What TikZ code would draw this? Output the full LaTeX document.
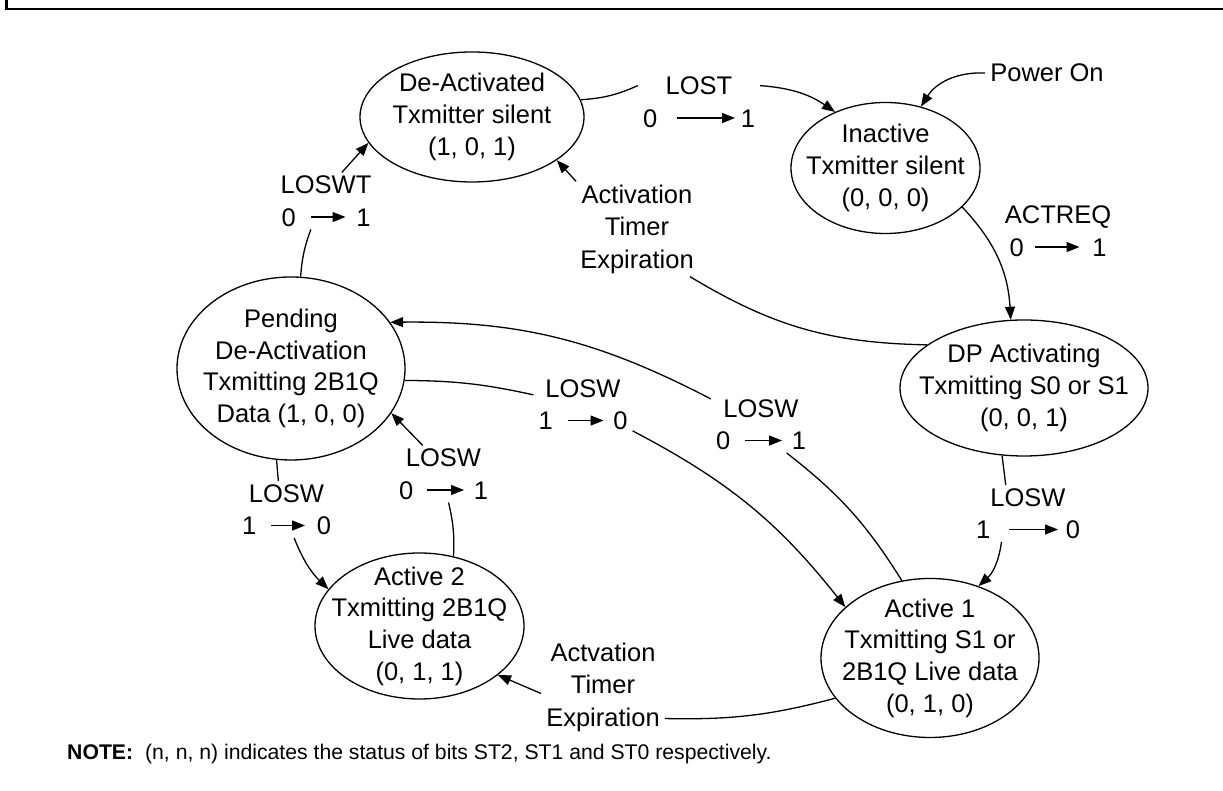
\documentclass[tikz,border=0pt]{standalone}
\usepackage{fontspec}
\setmainfont{Liberation Sans}
\usetikzlibrary{shapes.geometric,arrows.meta}

\newcommand{\flipbits}[5]{#1\hspace{#3pt}\tikz[baseline]\draw[line width=1.5pt,-{Triangle[length=13pt,width=10pt]}] (0pt,9pt) -- (#4pt,9pt);\hspace{#5pt}#2}

\begin{document}
\begin{tikzpicture}[x=1pt,y=1pt,
    stateell/.style={ellipse,draw,line width=1.3pt,inner sep=0pt},
    statetxt/.style={align=center,font=\fontsize{25.5}{31.7}\selectfont},
    cond/.style={align=center,inner xsep=5pt,inner ysep=3pt,font=\fontsize{25.5}{32.5}\selectfont},
    link/.style={line width=1.3pt},
    trans/.style={link,-{Triangle[length=13pt,width=10pt]}}]
  \useasboundingbox (0,0) rectangle (1223,791);
  \draw[line width=2.3pt] (6.5,791) -- (6.5,782) -- (1223,782);

  \node[stateell,minimum width=224pt,minimum height=130pt,label={[statetxt]center:{De-Activated\\Txmitter silent\\(1, 0, 1)}}] (deact) at (472,674) {};
  \node[stateell,minimum width=189pt,minimum height=131pt,label={[statetxt]center:{Inactive\\Txmitter silent\\(0, 0, 0)}}] (inact) at (885.5,623) {};
  \node[stateell,minimum width=248pt,minimum height=136pt,label={[statetxt]center:{DP Activating\\Txmitting S0 or S1\\(0, 0, 1)}}] (dpact) at (1024,403) {};
  \node[stateell,minimum width=228pt,minimum height=183pt,label={[statetxt]center:{Pending\\De-Activation\\Txmitting 2B1Q\\Data (1, 0, 0)}}] (pend) at (291,422.5) {};
  \node[stateell,minimum width=209pt,minimum height=146pt,label={[statetxt]center:{Active 2\\Txmitting 2B1Q\\Live data\\(0, 1, 1)}}] (act2) at (419.5,165) {};
  \node[stateell,minimum width=218pt,minimum height=159pt,label={[statetxt]center:{Active 1\\Txmitting S1 or\\2B1Q Live data\\(0, 1, 0)}}] (act1) at (930,133) {};

  \node[cond] (lost) at (699,689) {LOST\\\flipbits{0}{1}{19}{58}{5}};
  \node[cond] (power) at (1047,718) {Power On};
  \node[cond] (actreq) at (1058,560) {ACTREQ\\\flipbits{0}{1}{10}{45}{12}};
  \node[cond] (tmrup) at (637,562) {Activation\\Timer\\Expiration};
  \node[cond] (loswt) at (326,590) {LOSWT\\\flipbits{0}{1}{14}{35}{10}};
  \node[cond] (loswpa) at (583,386.5) {LOSW\\\flipbits{1}{0}{14}{36}{9}};
  \node[cond] (loswap) at (761,366.5) {LOSW\\\flipbits{0}{1}{14}{37}{9}};
  \node[cond] (loswda) at (1028,277.5) {LOSW\\\flipbits{1}{0}{18}{49}{7}};
  \node[cond] (loswpb) at (286.5,281.5) {LOSW\\\flipbits{1}{0}{14}{34}{11}};
  \node[cond] (loswbp) at (443.5,317) {LOSW\\\flipbits{0}{1}{13}{37}{9}};
  \node[cond] (tmrlo) at (603,104) {Actvation\\Timer\\Expiration};
  \node[anchor=base west,inner sep=0pt,font=\fontsize{21.2}{25}\selectfont] (note) at (67,31) {\textbf{NOTE:}\hspace{12pt}(n, n, n) indicates the status of bits ST2, ST1 and ST0 respectively.};

  \draw[link] (deact.9) to[bend right=10] (lost.165);
  \draw[trans] (lost.15) to[bend left=15] (inact.132);
  \draw[trans] (power.west) to[bend right=30] (inact.60);
  \draw[trans] (inact.-27) to[bend left=20] (dpact.101);
  \draw[link] (dpact.156) to[bend left=15] (tmrup.-42);
  \draw[trans] (tmrup.142) -- (deact.-27);
  \draw[link] (pend.84) to[bend left=8] (loswt.-118);
  \draw[trans] (loswt.61) -- (deact.194);
  \draw[link] (act1.110) to[bend right=10] (loswap.-48);
  \draw[trans] (loswap.153) to[bend right=14] (pend.25);
  \draw[link] (pend.-6) to[bend left=6] (loswpa.169);
  \draw[trans] (loswpa.-28) to[bend left=12] (act1.149);
  \draw[link] (dpact.-108) -- (loswda.128);
  \draw[trans] (loswda.-133) to[bend left=20] (act1.56);
  \draw[link] (pend.-99) -- (loswpb.106);
  \draw[trans] (loswpb.-75) to[bend right=12] (act2.158);
  \draw[link] (act2.64) to[bend right=8] (loswbp.-80);
  \draw[trans] (loswbp.126) -- (pend.-24);
  \draw[link] (act1.203) to[bend left=8] (tmrlo.-27);
  \draw[trans] (tmrlo.186) -- (act2.-32);
\end{tikzpicture}
\end{document}
